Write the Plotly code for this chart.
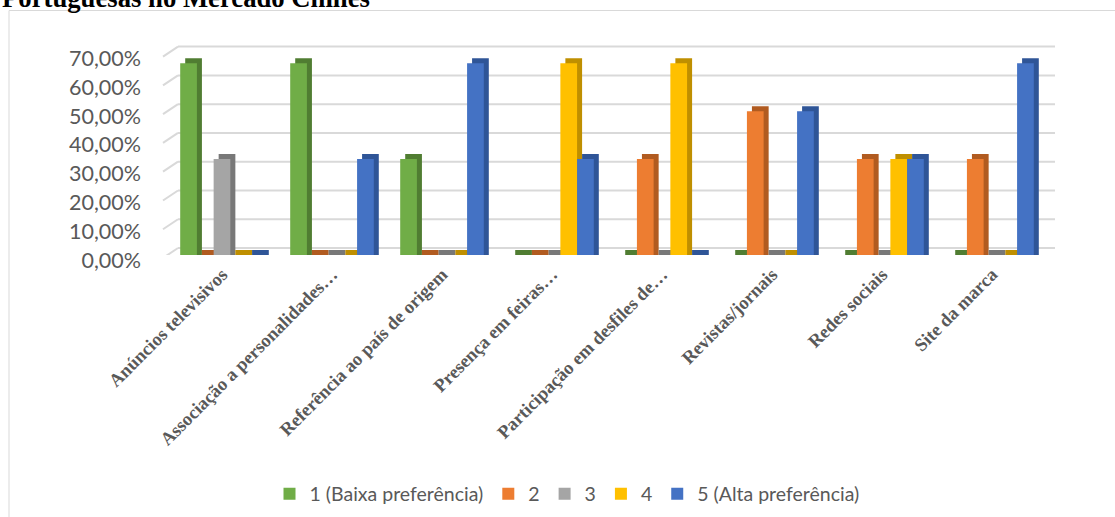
import plotly.graph_objects as go

# ---------------- data ----------------
CATEGORIES = [
    "Anúncios televisivos",
    "Associação a personalidades…",
    "Referência ao país de origem",
    "Presença em feiras…",
    "Participação em desfiles de…",
    "Revistas/jornais",
    "Redes sociais",
    "Site da marca",
]
SERIES_NAMES = ["1 (Baixa preferência)", "2", "3", "4", "5 (Alta preferência)"]
S1 = [0.6667, 0.6667, 0.3333, 0.0, 0.0, 0.0, 0.0, 0.0]
S2 = [0.0, 0.0, 0.0, 0.0, 0.3333, 0.5, 0.3333, 0.3333]
S3 = [0.3333, 0.0, 0.0, 0.0, 0.0, 0.0, 0.0, 0.0]
S4 = [0.0, 0.0, 0.0, 0.6667, 0.6667, 0.0, 0.3333, 0.0]
S5 = [0.0, 0.3333, 0.6667, 0.3333, 0.0, 0.5, 0.3333, 0.6667]
Y_TICKS = [0.0, 0.1, 0.2, 0.3, 0.4, 0.5, 0.6, 0.7]
TITLE_TEXT = "Portuguesas no Mercado Chinês"

# ---------------- style ----------------
COLORS = ["#70AD47", "#ED7D31", "#A5A5A5", "#FFC000", "#4472C4"]
SHADES = ["#507D32", "#B15B20", "#787878", "#BF8F00", "#2F5597"]
GRID = "#D9D9D9"
TXT = "#595959"

W, H = 1115, 517
ML, MR, MT, MB = 167, 68, 44, 262
PW = W - ML - MR
PH = H - MT - MB
PX_PER_UNIT = 287.7
Y_MAX = PH / PX_PER_UNIT


def px_x(px):
    return (px - ML) / PW


def px_y(py):
    return (H - MB - py) / PH


def d_units(pixels):
    return pixels / PX_PER_UNIT


SLOT = 0.152
SIDE = 0.0455
DEPTH = d_units(5)
GROUP0 = -2.5 * SLOT
BACK_SHIFT = d_units(7)

fig = go.Figure()
series = [S1, S2, S3, S4, S5]
for i, (name, vals) in enumerate(zip(SERIES_NAMES, series)):
    fig.add_trace(go.Bar(
        x=CATEGORIES, y=[v + DEPTH for v in vals], base=0,
        offset=GROUP0 + i * SLOT + SIDE, width=SLOT,
        marker=dict(color=SHADES[i], line=dict(width=0)),
        showlegend=False, hoverinfo="skip",
    ))
    fig.add_trace(go.Bar(
        x=CATEGORIES, y=vals, name=name,
        offset=GROUP0 + i * SLOT, width=SLOT,
        marker=dict(color=COLORS[i], line=dict(width=0)),
    ))

shapes = []
# outer frame
shapes.append(dict(type="rect", xref="paper", yref="paper",
                   x0=px_x(9), x1=px_x(1130), y0=px_y(10.5), y1=px_y(540),
                   line=dict(color=GRID, width=1), fillcolor="rgba(0,0,0,0)",
                   layer="below"))
# gridlines on the back wall plus the floor diagonal
for v in Y_TICKS:
    yb = v + BACK_SHIFT
    shapes.append(dict(type="line", xref="paper", yref="y",
                       x0=px_x(178), x1=px_x(1055), y0=yb, y1=yb,
                       line=dict(color=GRID, width=2), layer="below"))
    shapes.append(dict(type="line", xref="paper", yref="y",
                       x0=px_x(163), x1=px_x(178), y0=yb - d_units(10), y1=yb,
                       line=dict(color=GRID, width=2), layer="below"))

fig.update_layout(
    width=W, height=H,
    margin=dict(l=ML, r=MR, t=MT, b=MB, autoexpand=False),
    paper_bgcolor="white", plot_bgcolor="rgba(0,0,0,0)",
    barmode="overlay",
    separators=", ",
    showlegend=True,
    legend=dict(orientation="h", x=px_x(567), xanchor="center",
                y=px_y(494), yanchor="middle",
                font=dict(family="Lato", size=19.5, color=TXT),
                traceorder="normal", itemwidth=30,
                bgcolor="rgba(0,0,0,0)"),
    xaxis=dict(range=[-0.5, 7.5], showgrid=False, zeroline=False,
               showline=False, ticks="", tickangle=-45, automargin=False,
               tickfont=dict(family="Liberation Serif", size=18.5, color=TXT,
                             weight="bold"),
               ticklabelstandoff=4),
    yaxis=dict(range=[0, Y_MAX], tickvals=Y_TICKS, tickformat=".2%",
               showgrid=False, zeroline=False, showline=False, ticks="",
               automargin=False,
               tickfont=dict(family="Lato", size=21.5, color=TXT),
               ticklabelshift=5, ticklabelstandoff=25),
    shapes=shapes,
    annotations=[dict(text=TITLE_TEXT, xref="paper", yref="paper",
                      x=px_x(0), y=px_y(15), xanchor="left", yanchor="bottom",
                      showarrow=False,
                      font=dict(family="Liberation Serif", size=26.7,
                                color="black", weight="bold"))],
)

fig.write_html("out.html")
